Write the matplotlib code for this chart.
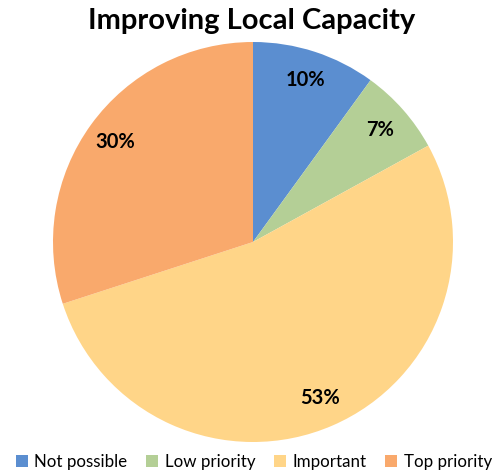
import numpy as np
import matplotlib.pyplot as plt

labels = ['Not possible', 'Low priority', 'Important', 'Top priority']
shares = [10, 7, 53, 30]
colors = ['#5b8ed0', '#b4cf96', '#ffd588', '#f9a96c']

plt.rcParams['font.family'] = ['Lato', 'DejaVu Sans']

fig = plt.figure(figsize=(5.03, 4.72), dpi=100)
ax = fig.add_axes([53 / 503, 30 / 472, 400 / 503, 400 / 472])

wedges, texts = ax.pie(shares, colors=colors, startangle=90, counterclock=False,
                       radius=1.0)
# percentage labels inside each slice
for w, v in zip(wedges, shares):
    ang = np.deg2rad((w.theta1 + w.theta2) / 2)
    ax.text(0.85 * np.cos(ang), 0.85 * np.sin(ang), f'{v}%',
            ha='center', va='center', fontsize=14.5, fontweight='bold')
ax.set_xlim(-1, 1)
ax.set_ylim(-1, 1)
ax.set_aspect('auto')
ax.axis('off')

fig.text(0.5, 0.955, 'Improving Local Capacity', ha='center', va='center',
         fontsize=21, fontweight='bold')

fig.legend(wedges, labels, loc='center', bbox_to_anchor=(0.505, 0.022), ncol=4,
           frameon=False, fontsize=12.2, handlelength=0.7, handleheight=0.7,
           handletextpad=0.4, columnspacing=1.1)

fig.savefig('out.png', dpi=100)
